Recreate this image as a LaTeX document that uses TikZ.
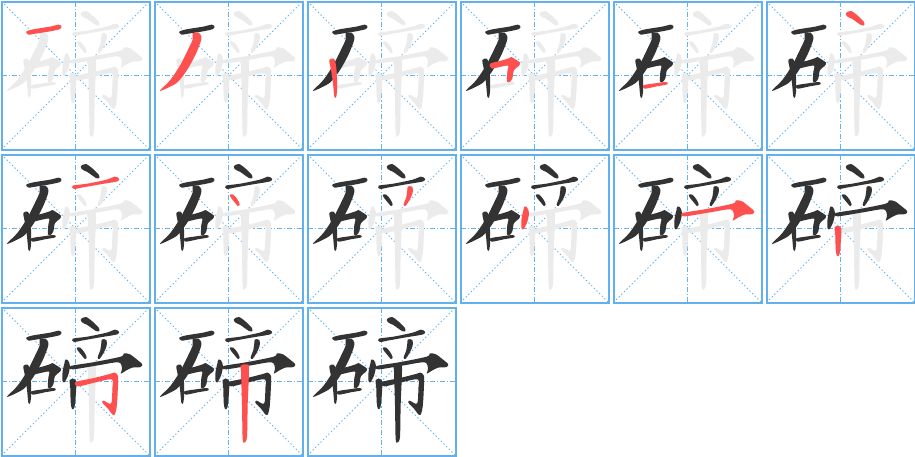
\documentclass[tikz,border=0pt]{standalone}
\definecolor{bord}{HTML}{62B0EE}
\definecolor{guide}{HTML}{62B4F0}
\definecolor{inkgray}{HTML}{EBEBEB}
\definecolor{inkblack}{HTML}{333333}
\definecolor{inkred}{HTML}{FF5050}
\tikzset{
  border/.style={draw=bord,line width=2pt},
  cline/.style={draw=guide,line width=1pt,dash pattern=on 5pt off 2pt on 1.2pt off 2pt},
  dline/.style={draw=guide,line width=1pt,dash pattern=on 1.3pt off 2.4pt},
  brush/.style={smooth cycle,tension=0.5}
}
\expandafter\def\csname stk1\endcsname#1{\fill[#1] plot[brush] coordinates {(83,97) (103,91) (153,83) (179,77) (187,82) (183,90) (153,97) (103,105) (89,107) (83,103)};}
\expandafter\def\csname stk2\endcsname#1{\fill[#1] plot[brush] coordinates {(122,103) (140,101) (148,113) (146,128) (130,168) (105,213) (75,251) (28,275) (27,271) (55,243) (85,198) (110,148) (122,121)};}
\expandafter\def\csname stk3\endcsname#1{\fill[#1] plot[brush] coordinates {(73,183) (86,179) (92,193) (96,233) (96,278) (93,295) (88,293) (84,253) (78,213)};}
\expandafter\def\csname stk4\endcsname#1{\fill[#1] plot[brush] coordinates {(98,193) (130,185) (152,178) (160,174) (172,181) (186,191) (182,201) (168,213) (163,238) (155,249) (147,247) (148,218) (150,200) (120,205) (102,209) (96,203)};}
\expandafter\def\csname stk5\endcsname#1{\fill[#1] plot[brush] coordinates {(97,259) (132,253) (165,249) (169,256) (137,262) (101,269)};}
\expandafter\def\csname stk6\endcsname#1{\fill[#1] plot[brush] coordinates {(246,42) (261,36) (281,50) (299,68) (301,78) (291,78) (265,60) (249,52)};}
\expandafter\def\csname stk7\endcsname#1{\fill[#1] plot[brush] coordinates {(221,101) (265,95) (323,83) (347,74) (359,79) (355,88) (303,97) (247,107) (225,111)};}
\expandafter\def\csname stk8\endcsname#1{\fill[#1] plot[brush] coordinates {(234,128) (244,128) (256,142) (263,157) (258,162) (249,152) (236,136)};}
\expandafter\def\csname stk9\endcsname#1{\fill[#1] plot[brush] coordinates {(309,103) (322,105) (323,122) (313,145) (301,162) (296,157) (304,135) (307,114)};}
\expandafter\def\csname stk10\endcsname#1{\fill[#1] plot[brush] coordinates {(199,164) (207,166) (213,183) (207,212) (196,232) (190,226) (191,198) (196,176)};}
\expandafter\def\csname stk11\endcsname#1{\fill[#1] plot[brush] coordinates {(215,183) (287,171) (365,155) (375,145) (393,148) (413,163) (429,177) (425,186) (399,188) (379,198) (365,206) (369,192) (359,172) (297,181) (221,193)};}
\expandafter\def\csname stk12\endcsname#1{\fill[#1] plot[brush] coordinates {(212,225) (225,222) (232,232) (230,275) (226,308) (219,312) (215,292) (214,250)};}
\expandafter\def\csname stk13\endcsname#1{\fill[#1] plot[brush] coordinates {(230,231) (285,219) (336,206) (346,203) (357,213) (356,262) (353,306) (348,327) (341,329) (326,310) (310,293) (314,287) (331,296) (338,291) (340,252) (338,223) (290,232) (238,244)};}
\expandafter\def\csname stk14\endcsname#1{\fill[#1] plot[brush] coordinates {(266,182) (284,178) (291,190) (287,300) (285,395) (278,412) (272,402) (270,300) (267,200)};}

\newcommand\panel[3]{%
  \begin{scope}[shift={(#1,#2)}]
    \draw[cline] (-74,0) -- (74,0);
    \draw[cline] (0,-74) -- (0,74);
    \draw[dline] (-74,-74) -- (74,74);
    \draw[dline] (-74,74) -- (74,-74);
    \begin{scope}[x=0.33333pt,y=-0.33333pt,shift={(-229.5,-229.5)}]
      \foreach \s in {1,...,14}{\ifnum\s<#3\relax\else\csname stk\s\endcsname{inkgray}\fi}
      \foreach \s in {1,...,14}{\ifnum\s<#3\relax\csname stk\s\endcsname{inkblack}\fi}
      \foreach \s in {1,...,14}{\ifnum\s=#3\relax\csname stk\s\endcsname{inkred}\fi}
    \end{scope}
    \draw[border] (-74,-74) rectangle (74,74);
  \end{scope}}

\begin{document}
\begin{tikzpicture}[x=1pt,y=-1pt]
\useasboundingbox[fill=white] (0,0) rectangle (915,456);
\panel{75.5}{75.5}{1}
\panel{228.5}{75.5}{2}
\panel{381.5}{75.5}{3}
\panel{534.5}{75.5}{4}
\panel{687.5}{75.5}{5}
\panel{840.5}{75.5}{6}
\panel{75.5}{228.5}{7}
\panel{228.5}{228.5}{8}
\panel{381.5}{228.5}{9}
\panel{534.5}{228.5}{10}
\panel{687.5}{228.5}{11}
\panel{840.5}{228.5}{12}
\panel{75.5}{381.5}{13}
\panel{228.5}{381.5}{14}
\panel{381.5}{381.5}{15}
\end{tikzpicture}
\end{document}
